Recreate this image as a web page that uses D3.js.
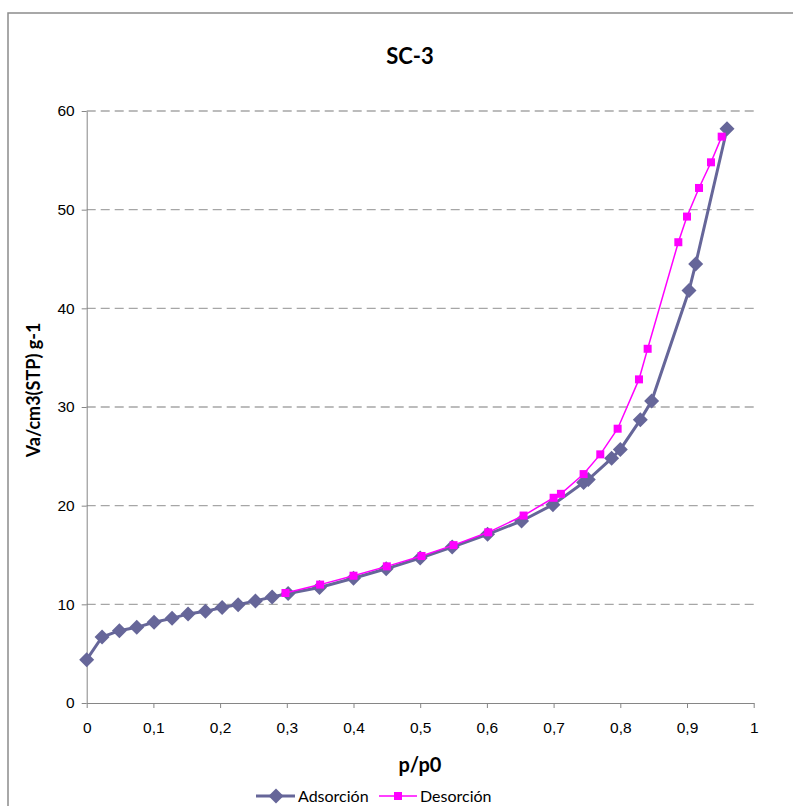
<!DOCTYPE html>
<html>
<head>
<meta charset="utf-8">
<script src="https://cdn.jsdelivr.net/npm/d3@7"></script>
<style>
  html, body { margin: 0; padding: 0; background: #fff; }
  svg { display: block; font-family: Lato, "Open Sans", sans-serif; }
  .axis path, .axis line { stroke: #868686; }
  .axis text { fill: #000; font-size: 15.5px; }
</style>
</head>
<body>
<svg id="chart" width="793" height="806"></svg>
<script>
  // ---DATA
  var title = 'SC-3';
  var xTitle = 'p/p0';
  var yTitle = 'Va/cm3(STP) g-1';
  var seriesNames = ['Adsorción', 'Desorción'];

  var xTicks = [0, 0.1, 0.2, 0.3, 0.4, 0.5, 0.6, 0.7, 0.8, 0.9, 1];
  var yTicks = [0, 10, 20, 30, 40, 50, 60];

  var adsX = [0, 0.023, 0.049, 0.075, 0.101, 0.128, 0.152, 0.178, 0.203, 0.227,
    0.253, 0.278, 0.302, 0.349, 0.400, 0.449, 0.500, 0.548, 0.601, 0.652,
    0.699, 0.745, 0.752, 0.787, 0.800, 0.830, 0.847, 0.903, 0.913, 0.960];
  var adsY = [4.39, 6.69, 7.33, 7.67, 8.18, 8.58, 9.03, 9.29, 9.67, 9.97,
    10.35, 10.75, 11.1, 11.7, 12.65, 13.6, 14.7, 15.8, 17.1, 18.45,
    20.1, 22.35, 22.65, 24.8, 25.7, 28.7, 30.6, 41.8, 44.5, 58.2];

  var desX = [0.952, 0.936, 0.918, 0.900, 0.887, 0.841, 0.828, 0.796, 0.770, 0.745,
    0.711, 0.700, 0.655, 0.602, 0.550, 0.502, 0.450, 0.400, 0.350, 0.298];
  var desY = [57.4, 54.8, 52.2, 49.3, 46.7, 35.9, 32.8, 27.8, 25.2, 23.2,
    21.2, 20.8, 19.0, 17.3, 16.0, 14.9, 13.85, 12.9, 12.0, 11.15];

  //---SIZES
  var x0 = 86.7, x1 = 753.7, yTop = 111, yBot = 703;
  var col_ads = '#666699', col_des = '#ff00ff';

  var svg = d3.select('#chart');

  //---OUTER FRAME
  svg.append('rect')
    .attr('x', 8).attr('y', 13)
    .attr('width', 800).attr('height', 820)
    .attr('fill', 'none')
    .attr('stroke', '#8c8c8c')
    .attr('stroke-width', 1.5);

  //---SCALES
  var x = d3.scaleLinear().domain([0, 1]).range([x0, x1]);
  var y = d3.scaleLinear().domain([0, 60]).range([yBot, yTop]);

  //---GRID
  svg.append('g')
    .selectAll('line')
    .data(yTicks.filter(function(d) { return d > 0; }))
    .enter()
    .append('line')
    .attr('x1', x0).attr('x2', x1)
    .attr('y1', function(d) { return y(d); })
    .attr('y2', function(d) { return y(d); })
    .attr('stroke', '#a6a6a6')
    .attr('stroke-width', 1.3)
    .attr('stroke-dasharray', '9,5');

  //---AXES
  var fmt = function(d) { return String(d).replace('.', ','); };

  svg.append('g')
    .attr('class', 'axis')
    .attr('transform', 'translate(0,' + yBot + ')')
    .call(d3.axisBottom(x).tickValues(xTicks).tickFormat(fmt).tickSize(5).tickSizeOuter(0))
    .call(function(g) { g.selectAll('text').attr('dy', '1.45em'); });

  svg.append('g')
    .attr('class', 'axis')
    .attr('transform', 'translate(' + x0 + ',0)')
    .call(d3.axisLeft(y).tickValues(yTicks).tickSize(5).tickSizeOuter(0))
    .call(function(g) { g.selectAll('text').attr('x', -12); });

  //---SERIES
  var ads = adsX.map(function(d, i) { return [d, adsY[i]]; });
  var des = desX.map(function(d, i) { return [d, desY[i]]; });

  var line = d3.line()
    .x(function(d) { return x(d[0]); })
    .y(function(d) { return y(d[1]); });

  var diamond = 'M0,-7.5L7.5,0L0,7.5L-7.5,0Z';

  svg.append('path')
    .datum(ads)
    .attr('d', line)
    .attr('fill', 'none')
    .attr('stroke', col_ads)
    .attr('stroke-width', 3);

  svg.append('g')
    .selectAll('path')
    .data(ads)
    .enter()
    .append('path')
    .attr('d', diamond)
    .attr('transform', function(d) { return 'translate(' + x(d[0]) + ',' + y(d[1]) + ')'; })
    .attr('fill', col_ads);

  svg.append('path')
    .datum(des)
    .attr('d', line)
    .attr('fill', 'none')
    .attr('stroke', col_des)
    .attr('stroke-width', 1.5);

  svg.append('g')
    .selectAll('rect')
    .data(des)
    .enter()
    .append('rect')
    .attr('x', function(d) { return x(d[0]) - 4; })
    .attr('y', function(d) { return y(d[1]) - 4; })
    .attr('width', 8).attr('height', 8)
    .attr('fill', col_des);

  //---TITLES
  svg.append('text')
    .attr('x', 410).attr('y', 64)
    .attr('text-anchor', 'middle')
    .attr('font-weight', 'bold')
    .attr('font-size', 22)
    .text(title);

  svg.append('text')
    .attr('x', 420).attr('y', 772)
    .attr('text-anchor', 'middle')
    .attr('font-weight', 'bold')
    .attr('font-size', 20)
    .text(xTitle);

  svg.append('text')
    .attr('transform', 'translate(40,390) rotate(-90)')
    .attr('text-anchor', 'middle')
    .attr('font-weight', 'bold')
    .attr('font-size', 18)
    .text(yTitle);

  //---LEGEND
  var leg = svg.append('g').attr('transform', 'translate(0,796)');

  leg.append('line')
    .attr('x1', 256).attr('x2', 295)
    .attr('stroke', col_ads).attr('stroke-width', 3);
  leg.append('path')
    .attr('d', diamond)
    .attr('transform', 'translate(276,0)')
    .attr('fill', col_ads);
  leg.append('text')
    .attr('x', 298).attr('dy', '0.35em')
    .attr('font-size', 16)
    .text(seriesNames[0]);

  leg.append('line')
    .attr('x1', 379).attr('x2', 417)
    .attr('stroke', col_des).attr('stroke-width', 1.5);
  leg.append('rect')
    .attr('x', 394).attr('y', -4)
    .attr('width', 8).attr('height', 8)
    .attr('fill', col_des);
  leg.append('text')
    .attr('x', 420).attr('dy', '0.35em')
    .attr('font-size', 16)
    .text(seriesNames[1]);
</script>
</body>
</html>
